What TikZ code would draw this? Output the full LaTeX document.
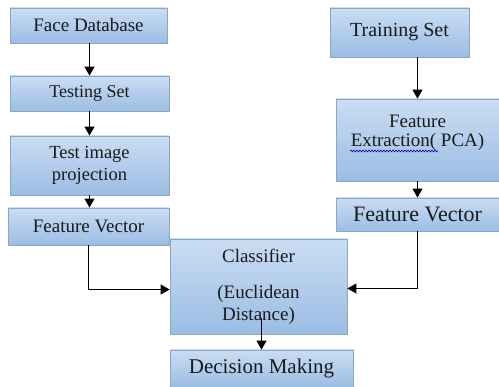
\documentclass[tikz,border=0pt]{standalone}
\usepackage{fontspec}
\setmainfont{Liberation Serif}
\usetikzlibrary{arrows.meta,decorations.pathmorphing}
\definecolor{boxtop}{HTML}{CADDF3}
\definecolor{boxbot}{HTML}{9BBDE3}
\definecolor{boxline}{HTML}{8BA6C6}
\definecolor{txt}{HTML}{1A1A1A}
\tikzset{
  blk/.style={draw=boxline, line width=0.8pt, top color=boxtop, bottom color=boxbot,
    rectangle, inner sep=0pt, align=center, text=txt},
  arr/.style={draw=black, line width=1.2pt, -{Triangle[width=10pt,length=9pt]}},
  lnk/.style={draw=black, line width=1.2pt}
}
\newcommand{\fs}[1]{\fontsize{#1}{#1}\selectfont}
\begin{document}
\begin{tikzpicture}[x=1pt,y=1pt]
\useasboundingbox (0,0) rectangle (499,-387);
\node[blk, minimum width=157, minimum height=35, font=\fs{19}] (fdb) at (88.5,-25.5) {Face Database};
\node[blk, minimum width=159, minimum height=35, font=\fs{18}] (tst) at (89.5,-93.5) {Testing Set};
\node[blk, minimum width=159, minimum height=59, font={\fontsize{18.5}{22}\selectfont}] (tip) at (89.5,-165.5) {Test image\\projection};
\node[blk, minimum width=161, minimum height=37, font=\fs{19}] (fvl) at (88.5,-226.5) {Feature Vector};
\node[blk, minimum width=177, minimum height=95, font={\fontsize{19}{22}\selectfont}] (cls) at (258.5,-286.5) {Classifier\\[14pt](Euclidean\\Distance)};
\node[blk, minimum width=183, minimum height=37, font=\fs{21}] (dm) at (261.5,-368.5) {Decision Making};
\node[blk, minimum width=139, minimum height=49, font=\fs{20}] (trs) at (399.5,-32.5) {Training Set};
\node[blk, minimum width=163, minimum height=82, font={\fontsize{19}{19}\selectfont}] (fe) at (417.5,-140) {Feature\\Extraction( PCA)\\ \mbox{}};
\node[blk, minimum width=163, minimum height=33, font=\fs{22}] (fvr) at (417.5,-214.5) {Feature Vector};
% spell-check squiggle
\coordinate (sqa) at (350,-151);
\coordinate (sqb) at (438,-151);
\draw[blue!70!black, line width=0.6pt, decorate, decoration={snake, amplitude=0.9pt, segment length=3pt}] (sqa) -- (sqb);
% connectors
\draw[arr] (fdb.south -| tst.north) -- (tst.north);
\draw[arr] (tst.south) -- (tip.north);
\draw[arr] (tip.south) -- (tip.south |- fvl.north);
\draw[arr] (fvl.south) |- ([yshift=-3pt]cls.west);
\draw[arr] (fvr.south) |- ([yshift=-2pt]cls.east);
\draw[arr] (trs.south -| fe.north) -- (fe.north);
\draw[arr] (fe.south) -- (fvr.north);
\path (cls.south) ++(0,16) coordinate (cs);
\draw[arr] (cs -| dm.north) -- (dm.north);
\end{tikzpicture}
\end{document}
